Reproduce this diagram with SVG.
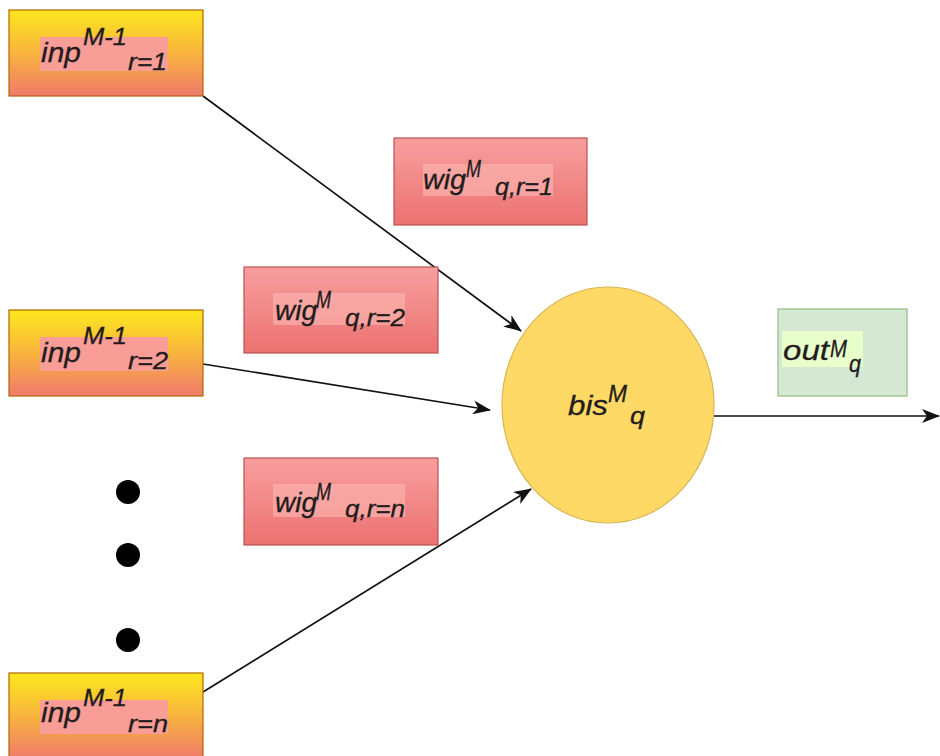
<svg xmlns="http://www.w3.org/2000/svg" width="940" height="756" viewBox="0 0 940 756">
  <style>
    .lbl { font-family: "Liberation Sans", Arial, sans-serif; font-style: italic; fill: #231c1c; stroke: #231c1c; stroke-width: 0.3; }
    .main { font-size: 28px; }
    .idx { font-size: 24px; }
    .inp { fill: url(#inpGrad); stroke: #b46504; stroke-width: 1.2; }
    .wig { fill: url(#wigGrad); stroke: #b85450; stroke-width: 1.2; }
    .hl-inp { fill: #f99d97; }
    .hl-wig { fill: #fbb0ad; opacity: 0.7; }
    .edge { stroke: #111; stroke-width: 1.7; fill: none; marker-end: url(#arrow); }
  </style>
  <defs>
    <linearGradient id="inpGrad" x1="0" y1="0" x2="0" y2="1">
      <stop offset="0" stop-color="#fde81e"/>
      <stop offset="0.5" stop-color="#f8b43e"/>
      <stop offset="1" stop-color="#ef7a6c"/>
    </linearGradient>
    <linearGradient id="wigGrad" x1="0" y1="0" x2="0" y2="1">
      <stop offset="0" stop-color="#f79f9e"/>
      <stop offset="1" stop-color="#eb7271"/>
    </linearGradient>
    <marker id="arrow" markerUnits="userSpaceOnUse" markerWidth="18" markerHeight="14" viewBox="0 0 18 14" refX="17" refY="7" orient="auto">
      <path d="M0,0 L18,7 L0,14 L5,7 z" fill="#111"/>
    </marker>
  </defs>

  <rect width="940" height="756" fill="#ffffff"/>

  <!-- connectors -->
  <g id="edges">
    <line class="edge" x1="203" y1="96" x2="521" y2="331"/>
    <line class="edge" x1="203" y1="364" x2="490" y2="410"/>
    <line class="edge" x1="203" y1="692" x2="531" y2="489"/>
    <line class="edge" x1="714" y1="416" x2="939" y2="416"/>
  </g>

  <!-- inputs -->
  <g id="inp1">
    <rect class="inp" x="9" y="10" width="194" height="86"/>
    <rect class="hl-inp" x="40" y="37" width="128" height="34"/>
    <text class="lbl main" x="41" y="62" textLength="40" lengthAdjust="spacingAndGlyphs">inp</text>
    <text class="lbl idx" x="83" y="45" textLength="44" lengthAdjust="spacingAndGlyphs">M-1</text>
    <text class="lbl idx" x="128" y="70" textLength="39" lengthAdjust="spacingAndGlyphs">r=1</text>
  </g>
  <g id="inp2">
    <rect class="inp" x="9" y="310" width="194" height="86"/>
    <rect class="hl-inp" x="40" y="337" width="128" height="34"/>
    <text class="lbl main" x="41" y="362" textLength="40" lengthAdjust="spacingAndGlyphs">inp</text>
    <text class="lbl idx" x="83" y="344" textLength="44" lengthAdjust="spacingAndGlyphs">M-1</text>
    <text class="lbl idx" x="128" y="369" textLength="40" lengthAdjust="spacingAndGlyphs">r=2</text>
  </g>
  <g id="inpn">
    <rect class="inp" x="9" y="673" width="194" height="86"/>
    <rect class="hl-inp" x="40" y="700" width="128" height="34"/>
    <text class="lbl main" x="41" y="722" textLength="40" lengthAdjust="spacingAndGlyphs">inp</text>
    <text class="lbl idx" x="83" y="706" textLength="44" lengthAdjust="spacingAndGlyphs">M-1</text>
    <text class="lbl idx" x="128" y="732" textLength="40" lengthAdjust="spacingAndGlyphs">r=n</text>
  </g>

  <!-- ellipsis between inputs -->
  <g id="dots" fill="#000">
    <circle cx="128" cy="492" r="12"/>
    <circle cx="128" cy="555" r="12"/>
    <circle cx="128" cy="640" r="12"/>
  </g>

  <!-- weights -->
  <g id="wig1">
    <rect class="wig" x="394" y="138" width="193" height="87"/>
    <rect class="hl-wig" x="423" y="164" width="130" height="32"/>
    <text class="lbl main" x="423" y="189" textLength="43" lengthAdjust="spacingAndGlyphs">wig</text>
    <text class="lbl idx" x="466" y="177" textLength="15" lengthAdjust="spacingAndGlyphs">M</text>
    <text class="lbl idx" x="495" y="195" textLength="58" lengthAdjust="spacingAndGlyphs">q,r=1</text>
  </g>
  <g id="wig2">
    <rect class="wig" x="244" y="267" width="194" height="86"/>
    <rect class="hl-wig" x="273" y="293" width="132" height="32"/>
    <text class="lbl main" x="275" y="320" textLength="42" lengthAdjust="spacingAndGlyphs">wig</text>
    <text class="lbl idx" x="316" y="308" textLength="15" lengthAdjust="spacingAndGlyphs">M</text>
    <text class="lbl idx" x="345" y="326" textLength="60" lengthAdjust="spacingAndGlyphs">q,r=2</text>
  </g>
  <g id="wign">
    <rect class="wig" x="244" y="458" width="194" height="87"/>
    <rect class="hl-wig" x="273" y="484" width="132" height="33"/>
    <text class="lbl main" x="275" y="512" textLength="42" lengthAdjust="spacingAndGlyphs">wig</text>
    <text class="lbl idx" x="316" y="500" textLength="15" lengthAdjust="spacingAndGlyphs">M</text>
    <text class="lbl idx" x="345" y="517" textLength="60" lengthAdjust="spacingAndGlyphs">q,r=n</text>
  </g>

  <!-- neuron -->
  <g id="bis">
    <ellipse cx="608" cy="405" rx="106" ry="118" fill="#ffd966" stroke="#d6b656" stroke-width="1.2"/>
    <text class="lbl main" x="568" y="415" textLength="40" lengthAdjust="spacingAndGlyphs">bis</text>
    <text class="lbl idx" x="608" y="402" textLength="19" lengthAdjust="spacingAndGlyphs">M</text>
    <text class="lbl idx" x="630" y="424" textLength="15" lengthAdjust="spacingAndGlyphs">q</text>
  </g>

  <!-- output -->
  <g id="out">
    <rect x="778" y="309" width="129" height="87" fill="#d5e8d4" stroke="#93bf80" stroke-width="1.2"/>
    <rect x="782" y="331" width="81" height="36" fill="#e8ffcc"/>
    <text class="lbl main" x="783" y="360" textLength="46" lengthAdjust="spacingAndGlyphs">out</text>
    <text class="lbl idx" x="830" y="357" textLength="17" lengthAdjust="spacingAndGlyphs">M</text>
    <text class="lbl idx" x="849" y="372" textLength="12" lengthAdjust="spacingAndGlyphs">q</text>
  </g>
</svg>
